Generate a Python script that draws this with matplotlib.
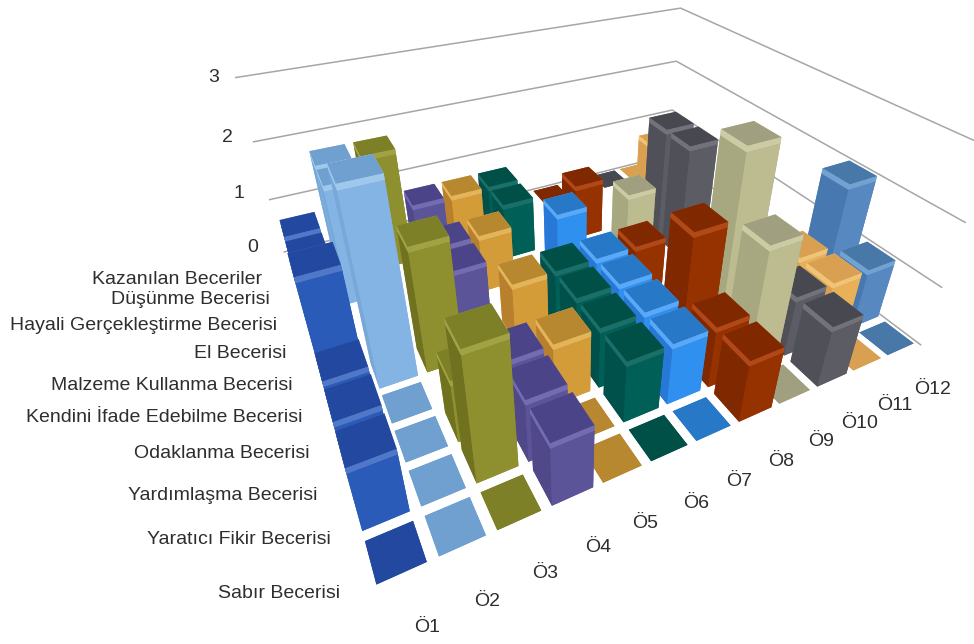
import matplotlib
matplotlib.use('Agg')
import matplotlib.pyplot as plt

plt.rcParams['font.family'] = ['Liberation Sans', 'DejaVu Sans']

students = ['Ö1', 'Ö2', 'Ö3', 'Ö4', 'Ö5', 'Ö6', 'Ö7', 'Ö8', 'Ö9', 'Ö10', 'Ö11', 'Ö12']
skills = ['Sabır Becerisi', 'Yaratıcı Fikir Becerisi', 'Yardımlaşma Becerisi', 'Odaklanma Becerisi',
          'Kendini İfade Edebilme Becerisi', 'Malzeme Kullanma Becerisi', 'El Becerisi',
          'Hayali Gerçekleştirme Becerisi', 'Düşünme Becerisi', 'Kazanılan Beceriler']
levels = [0, 1, 2, 3]

_ = None
# scores per student, front row first; None means no entry for that skill
scores = [
    [0, 1, 1, 1, 2, 1, 1, 1, 1, _],
    [0, 0, 0, 0, 3, _, _, 2, 2, _],
    [0, 2, 1, _, 2, _, _, _, 2, _],
    [1, 1, 1, _, _, 1, 1, _, 1, _],
    [0, 0, 1, _, 1, _, 1, _, 1, _],
    [0, 1, 1, 1, 1, _, _, 1, 1, _],
    [0, 1, 1, 1, 1, _, 1, _, _, _],
    [1, 1, 2, _, 1, _, _, 1, _, 0],
    [0, 2, 3, _, _, _, 1, _, _, _],
    [1, 1, _, _, _, 2, 2, _, _, 0],
    [0, 1, 1, _, _, _, _, _, 1, 0],
    [0, 1, 2, _, _, _, _, _, _, _],
]

front_colors = ['#2A5BB8', '#84B4E4', '#8E9030', '#5C5498', '#D49C38', '#006058',
                '#3090F0', '#963200', '#BCBC90', '#5C5C64', '#E8B058', '#5888C0']
top_colors = ['#2248A0', '#6FA0D0', '#7E8028', '#4C4488', '#B88830', '#005048',
              '#2878C8', '#802800', '#A0A080', '#484850', '#D8A050', '#4878A8']
side_colors = ['#2048A0', '#78A8D8', '#70721F', '#504888', '#B8802C', '#00504C',
               '#2878D8', '#802800', '#A8A880', '#505058', '#D8A050', '#4878B0']
band_colors = ['#4F78C8', '#A0C8EC', '#A0A244', '#746CB0', '#E4B45A', '#1A7068',
               '#5AA8F8', '#B04818', '#CCCCA4', '#72727A', '#F0C478', '#72A2D2']

# label anchors in pixels
skill_px = [(340, 594), (331, 540), (318, 495), (310, 453), (302, 418),
            (293, 385), (287, 354), (277, 326), (270, 299), (262, 280)]
student_px = [(427, 628), (487, 601), (545, 573), (598, 548), (645, 524), (696, 504),
              (739, 481), (781, 461), (821, 441), (860, 424), (895, 406), (933, 390)]
level_px = [(253, 247), (239, 193), (227, 137), (214, 78)]

nx, ny, nz = len(students), len(skills), levels[-1]
S = 1200.0
W, H = 974.0, 644.0

fig = plt.figure(figsize=(W / 100, H / 100), dpi=100)
ax = fig.add_axes([-42.04 / W, -181.81 / H, S / W, S / H], projection='3d')
ax.view_init(elev=32.34, azim=-116.84, roll=0.013)
ax.set_proj_type('persp', focal_length=0.106)
ax.set_box_aspect((1, 0.8309, 0.4022), zoom=0.5948)
ax.set_axis_off()
ax.computed_zorder = False

# grid lines on the two back walls
for lev in levels:
    ax.plot([0, nx, nx], [ny, ny, 0], [lev, lev, lev], color='#A6A6A6', lw=1.1, zorder=1)

bar_w = 0.8
band = 0.08
gap = (1 - bar_w) / 2
cells = sorted(((i, j) for i in range(nx) for j in range(ny)), key=lambda c: -(c[0] + c[1]))

z = 10
for i, j in cells:
    v = scores[i][j]
    if v is None:
        continue
    x0, y0 = i + gap, j + gap
    # face order of bar3d: bottom, top, -y, +y, -x, +x
    if v == 0:
        ax.bar3d(x0, y0, 0, bar_w, bar_w, 0, color=[top_colors[i]] * 6, shade=False, zorder=z)
    else:
        body = [front_colors[i], top_colors[i], front_colors[i], front_colors[i], side_colors[i], side_colors[i]]
        cap = [band_colors[i], top_colors[i], band_colors[i], band_colors[i], band_colors[i], band_colors[i]]
        ax.bar3d(x0, y0, 0, bar_w, bar_w, v - band, color=body, shade=False, zorder=z)
        ax.bar3d(x0, y0, v - band, bar_w, bar_w, band, color=cap, shade=False, zorder=z + 1)
    z += 2

ax.set_xlim(0, nx)
ax.set_ylim(0, ny)
ax.set_zlim(0, nz)

txt = '#2E2E2E'
for name, (px, py) in zip(skills, skill_px):
    fig.text(px / W, 1 - py / H, name, ha='right', va='center', fontsize=14, color=txt)
for name, (px, py) in zip(students, student_px):
    fig.text(px / W, 1 - py / H, name, ha='center', va='center', fontsize=14, color=txt)
for lev, (px, py) in zip(levels, level_px):
    fig.text(px / W, 1 - py / H, str(lev), ha='center', va='center', fontsize=14, color=txt)

fig.savefig('out.png', dpi=100)
